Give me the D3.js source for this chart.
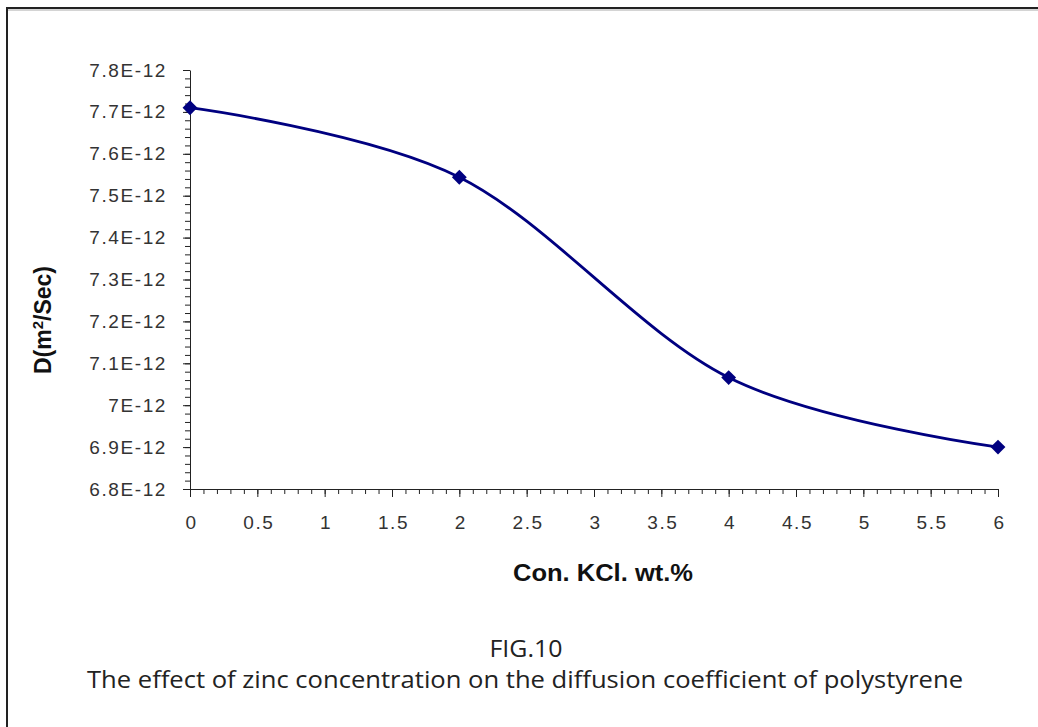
<!DOCTYPE html>
<html>
<head>
<meta charset="utf-8">
<script src="https://cdn.jsdelivr.net/npm/d3@7"></script>
<style>
  body { margin: 0; background: #fff; }
  svg { display: block; }
  .tick text { font-family: "Liberation Sans", Arial, sans-serif; font-size: 19px; fill: #333; letter-spacing: 1.6px; }
  .axis path, .axis line { stroke: #222; }
</style>
</head>
<body>
<div id="chart"></div>
<script>
// KCl concentration (wt.%) and diffusion coefficient (x 1E-12 m2/s)
var conc = [0, 2, 4, 6];
var diff = [7.71, 7.544, 7.066, 6.9];

var yTicks = [6.8, 6.9, 7.0, 7.1, 7.2, 7.3, 7.4, 7.5, 7.6, 7.7, 7.8];
var yTickLabels = ["6.8E-12", "6.9E-12", "7E-12", "7.1E-12", "7.2E-12", "7.3E-12", "7.4E-12", "7.5E-12", "7.6E-12", "7.7E-12", "7.8E-12"];
var xTicks = [0, 0.5, 1, 1.5, 2, 2.5, 3, 3.5, 4, 4.5, 5, 5.5, 6];
var xTickLabels = ["0", "0.5", "1", "1.5", "2", "2.5", "3", "3.5", "4", "4.5", "5", "5.5", "6"];

var width = 1038, height = 727;
var plotL = 190, plotR = 998, plotT = 70, plotB = 489;

var svg = d3.select("#chart")
    .append("svg")
    .attr("width", width)
    .attr("height", height);

// frame (left and top edges only)
svg.append("path")
    .attr("d", "M7,727V8H1038")
    .attr("fill", "none")
    .attr("stroke", "#222")
    .attr("stroke-width", 2);
svg.append("line")
    .attr("x1", 8).attr("x2", 1038)
    .attr("y1", 10).attr("y2", 10)
    .attr("stroke", "#aaa");

var x = d3.scaleLinear().domain([0, 6]).range([plotL, plotR]);
var y = d3.scaleLinear().domain([6.8, 7.8]).range([plotB, plotT]);

// minor ticks
svg.append("g")
    .attr("class", "axis")
    .attr("transform", "translate(0," + plotB + ")")
    .call(d3.axisBottom(x).tickValues(d3.range(0, 6.01, 0.1)).tickSize(5).tickFormat(""))
    .call(g => g.select(".domain").remove());
svg.append("g")
    .attr("class", "axis")
    .attr("transform", "translate(" + plotL + ",0)")
    .call(d3.axisLeft(y).tickValues(d3.range(6.8, 7.801, 0.02)).tickSize(5).tickFormat(""))
    .call(g => g.select(".domain").remove());

// major ticks + labels
svg.append("g")
    .attr("class", "axis")
    .attr("transform", "translate(0," + plotB + ")")
    .call(d3.axisBottom(x).tickValues(xTicks).tickSize(8).tickSizeOuter(0)
        .tickPadding(19)
        .tickFormat((d, i) => xTickLabels[i]))
    .call(g => g.selectAll(".tick text").attr("dx", "1px"));

svg.append("g")
    .attr("class", "axis")
    .attr("transform", "translate(" + plotL + ",0)")
    .call(d3.axisLeft(y).tickValues(yTicks).tickSize(7).tickSizeOuter(0)
        .tickPadding(16)
        .tickFormat((d, i) => yTickLabels[i]));

// smoothed line (Excel-like)
var line = d3.line()
    .x((d, i) => x(conc[i]))
    .y(d => y(d))
    .curve(d3.curveCatmullRom.alpha(0));

svg.append("path")
    .datum(diff)
    .attr("d", line)
    .attr("fill", "none")
    .attr("stroke", "#000080")
    .attr("stroke-width", 2.8);

svg.selectAll(".pt")
    .data(diff)
    .enter()
    .append("path")
    .attr("class", "pt")
    .attr("d", d3.symbol(d3.symbolSquare, 110))
    .attr("transform", (d, i) => "translate(" + x(conc[i]) + "," + y(d) + ") rotate(45)")
    .attr("fill", "#000080");

// axis titles
svg.append("text")
    .attr("x", 603)
    .attr("y", 581)
    .attr("text-anchor", "middle")
    .attr("textLength", 180)
    .attr("lengthAdjust", "spacingAndGlyphs")
    .style("font-family", "Liberation Sans, Arial, sans-serif")
    .style("font-weight", "bold")
    .style("font-size", "23px")
    .style("fill", "#111")
    .text("Con. KCl. wt.%");

var yt = svg.append("text")
    .attr("transform", "translate(51,320) rotate(-90)")
    .attr("text-anchor", "middle")
    .style("font-family", "Liberation Sans, Arial, sans-serif")
    .style("font-weight", "bold")
    .style("font-size", "23px")
    .style("fill", "#111");
yt.append("tspan").text("D(m");
yt.append("tspan").attr("dy", -8).style("font-size", "15px").text("2");
yt.append("tspan").attr("dy", 8).text("/Sec)");

// caption
svg.append("text")
    .attr("x", 526)
    .attr("y", 657)
    .attr("text-anchor", "middle")
    .attr("textLength", 73)
    .attr("lengthAdjust", "spacingAndGlyphs")
    .style("font-family", "Open Sans, sans-serif")
    .style("font-size", "23px")
    .style("fill", "#222")
    .text("FIG.10");

svg.append("text")
    .attr("x", 525)
    .attr("y", 688)
    .attr("text-anchor", "middle")
    .attr("textLength", 876)
    .attr("lengthAdjust", "spacingAndGlyphs")
    .style("font-family", "Open Sans, sans-serif")
    .style("font-size", "23px")
    .style("fill", "#222")
    .text("The effect of zinc concentration on the diffusion coefficient  of polystyrene");
</script>
</body>
</html>
